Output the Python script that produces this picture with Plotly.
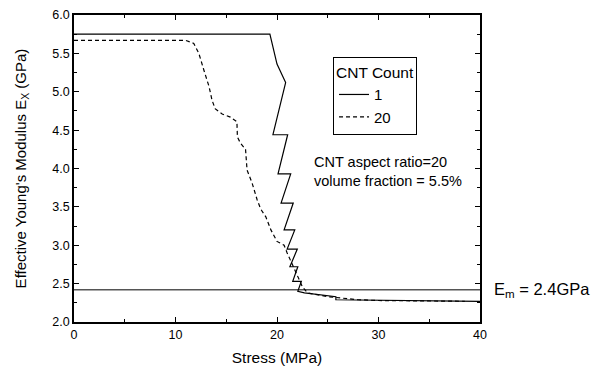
import plotly.graph_objects as go

# Data
stress_1 = [0, 19.3, 20.0, 20.85, 19.6, 21.05, 20.1, 21.35, 20.4, 21.6, 20.7, 21.75, 21.0, 22.0, 21.27, 22.05, 21.55, 22.4, 22.05, 22.7, 25.8, 25.8, 40]
modulus_1 = [5.75, 5.75, 5.36, 5.12, 4.44, 4.44, 3.93, 3.93, 3.55, 3.55, 3.20, 3.20, 2.95, 2.95, 2.72, 2.72, 2.53, 2.53, 2.40, 2.38, 2.33, 2.29, 2.27]

stress_20 = [0, 11.0, 11.8, 12.3, 12.8, 13.3, 13.6, 13.9, 14.6, 15.4, 16.05, 16.1, 16.4, 16.9, 17.05, 17.55, 18.05, 18.4, 18.9, 19.4, 20.0, 20.7, 21.0, 21.5, 22.0, 22.5, 23.0, 25.0, 28.0, 30.0, 38.5]
modulus_20 = [5.67, 5.67, 5.63, 5.50, 5.28, 5.07, 4.89, 4.78, 4.71, 4.67, 4.61, 4.41, 4.33, 4.25, 3.98, 3.81, 3.59, 3.47, 3.37, 3.20, 3.05, 3.00, 2.90, 2.76, 2.60, 2.46, 2.38, 2.33, 2.29, 2.28, 2.27]

em_x = [0, 40]
em_y = [2.42, 2.42]

x_ticks = [0, 10, 20, 30, 40]
y_ticks = [2.0, 2.5, 3.0, 3.5, 4.0, 4.5, 5.0, 5.5, 6.0]

FONT = "Liberation Sans, Arial, sans-serif"

fig = go.Figure()
fig.add_trace(go.Scatter(x=em_x, y=em_y, mode="lines", line=dict(color="#555555", width=1.3),
                         showlegend=False, hoverinfo="skip"))
fig.add_trace(go.Scatter(x=stress_1, y=modulus_1, mode="lines", name="1",
                         line=dict(color="black", width=1.2)))
fig.add_trace(go.Scatter(x=stress_20, y=modulus_20, mode="lines", name="20",
                         line=dict(color="black", width=1.2, dash="4px,3px")))

axis_common = dict(showline=True, linecolor="black", linewidth=1.5, mirror="allticks",
                   ticks="inside", ticklen=5, tickwidth=1, tickcolor="black",
                   showgrid=False, zeroline=False,
                   tickfont=dict(family=FONT, size=12.5, color="black"))

fig.update_xaxes(range=[0, 40], tickvals=x_ticks, automargin=False,
                 minor=dict(ticks="inside", ticklen=3, tickcolor="black", dtick=5, tick0=0),
                 title=dict(text="Stress (MPa)", font=dict(family=FONT, size=15.5, color="black")),
                 **axis_common)
fig.update_yaxes(range=[2, 6], tickvals=y_ticks, tickformat=".1f", automargin="left",
                 minor=dict(ticks="inside", ticklen=3, tickcolor="black", dtick=0.25, tick0=2),
                 title=dict(text="Effective Young's Modulus E<sub>X</sub> (GPa)",
                            font=dict(family=FONT, size=15, color="black"), standoff=22),
                 **axis_common)

fig.add_annotation(x=0.585, y=0.49, xref="paper", yref="paper", xanchor="left", yanchor="middle",
                   text="CNT aspect ratio=20<br>volume fraction = 5.5%", showarrow=False, align="left",
                   font=dict(family=FONT, size=14.5, color="black"))
fig.add_annotation(x=1.03, y=em_y[0], xref="paper", yref="y", xanchor="left", yanchor="middle",
                   text="E<sub>m</sub> = 2.4GPa", showarrow=False, align="left",
                   font=dict(family=FONT, size=16.5, color="black"))

fig.update_layout(
    width=595, height=366,
    margin=dict(l=74, r=115, t=15, b=44),
    paper_bgcolor="white", plot_bgcolor="white",
    font=dict(family=FONT, color="black"),
    legend=dict(title=dict(text="CNT Count", font=dict(family=FONT, size=15.5)),
                font=dict(family=FONT, size=15, color="black"),
                x=0.638, y=0.863, xanchor="left", yanchor="top",
                bordercolor="black", borderwidth=1, bgcolor="white",
                tracegroupgap=0, itemwidth=30),
)

fig.write_html("out.html")
